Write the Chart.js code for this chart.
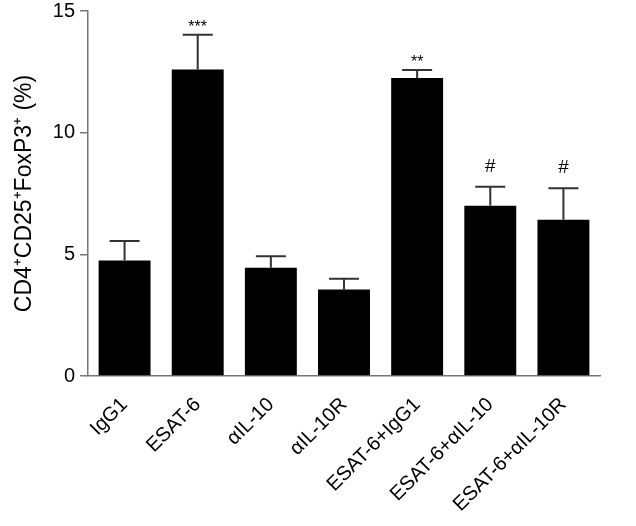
<!DOCTYPE html>
<html>
<head>
<meta charset="utf-8">
<script src="https://cdn.jsdelivr.net/npm/chart.js@4.4.1/dist/chart.umd.min.js"></script>
<style>
  html, body { margin: 0; padding: 0; background: #fff; }
  #wrap { width: 636px; height: 526px; }
</style>
</head>
<body>
<div id="wrap"><canvas id="c" width="636" height="526"></canvas></div>
<script>
const categories = ['IgG1', 'ESAT-6', 'αIL-10', 'αIL-10R', 'ESAT-6+IgG1', 'ESAT-6+αIL-10', 'ESAT-6+αIL-10R'];
const means = [4.75, 12.6, 4.45, 3.55, 12.25, 7.0, 6.42];
const errors = [0.8, 1.42, 0.47, 0.45, 0.33, 0.78, 1.3];
const marks = ['', '***', '', '', '**', '#', '#'];
const yTicks = [0, 5, 10, 15];

const FONT = "'Liberation Sans', Arial, Helvetica, sans-serif";

const errorBarPlugin = {
  id: 'errorBars',
  afterDatasetsDraw(chart) {
    const ctx = chart.ctx;
    const meta = chart.getDatasetMeta(0);
    const y = chart.scales.y;
    ctx.save();
    meta.data.forEach((bar, i) => {
      const x = bar.x;
      const yBar = y.getPixelForValue(means[i]);
      const yTop = y.getPixelForValue(means[i] + errors[i]);
      ctx.strokeStyle = '#333';
      ctx.lineWidth = 2;
      ctx.beginPath();
      ctx.moveTo(x, yBar);
      ctx.lineTo(x, yTop);
      ctx.moveTo(x - 15, yTop);
      ctx.lineTo(x + 15, yTop);
      ctx.stroke();
      if (marks[i]) {
        ctx.fillStyle = '#000';
        ctx.textAlign = 'center';
        ctx.textBaseline = 'alphabetic';
        const star = marks[i].includes('*');
        ctx.font = (star ? '16px ' : '19px ') + FONT;
        ctx.fillText(marks[i], x, yTop - (star ? 3 : 15));
      }
    });
    ctx.restore();
  }
};

new Chart(document.getElementById('c'), {
  type: 'bar',
  data: {
    labels: categories,
    datasets: [{
      data: means,
      backgroundColor: '#000',
      borderWidth: 0,
      categoryPercentage: 1.0,
      barPercentage: 0.71
    }]
  },
  options: {
    responsive: false,
    animation: false,
    devicePixelRatio: 1,
    layout: { padding: { left: 0, right: 36, top: 11, bottom: 0 } },
    plugins: { legend: { display: false }, tooltip: { enabled: false } },
    scales: {
      x: {
        offset: true,
        grid: { display: false },
        border: { display: true, color: '#777', width: 1.5 },
        ticks: {
          color: '#000',
          font: { family: FONT, size: 20 },
          minRotation: 45,
          maxRotation: 45,
          autoSkip: false,
          padding: 9
        },
        afterFit(scale) { scale.height = 150; }
      },
      y: {
        min: 0,
        max: 15,
        afterBuildTicks(scale) { scale.ticks = yTicks.map(v => ({ value: v })); },
        grid: { drawOnChartArea: false, drawTicks: true, tickLength: 8, color: '#777', lineWidth: 1.5 },
        border: { display: true, color: '#777', width: 1.5 },
        ticks: {
          color: '#000',
          font: { family: FONT, size: 20 },
          padding: 5
        },
        title: {
          display: true,
          text: 'CD4⁺CD25⁺FoxP3⁺ (%)',
          color: '#000',
          font: { family: FONT, size: 23 },
          padding: { top: 11, bottom: 4 }
        },
        afterFit(scale) {
          scale.width = 88;
          scale.paddingTop = 0;
          scale.paddingBottom = 0;
        }
      }
    }
  },
  plugins: [errorBarPlugin]
});
</script>
</body>
</html>
